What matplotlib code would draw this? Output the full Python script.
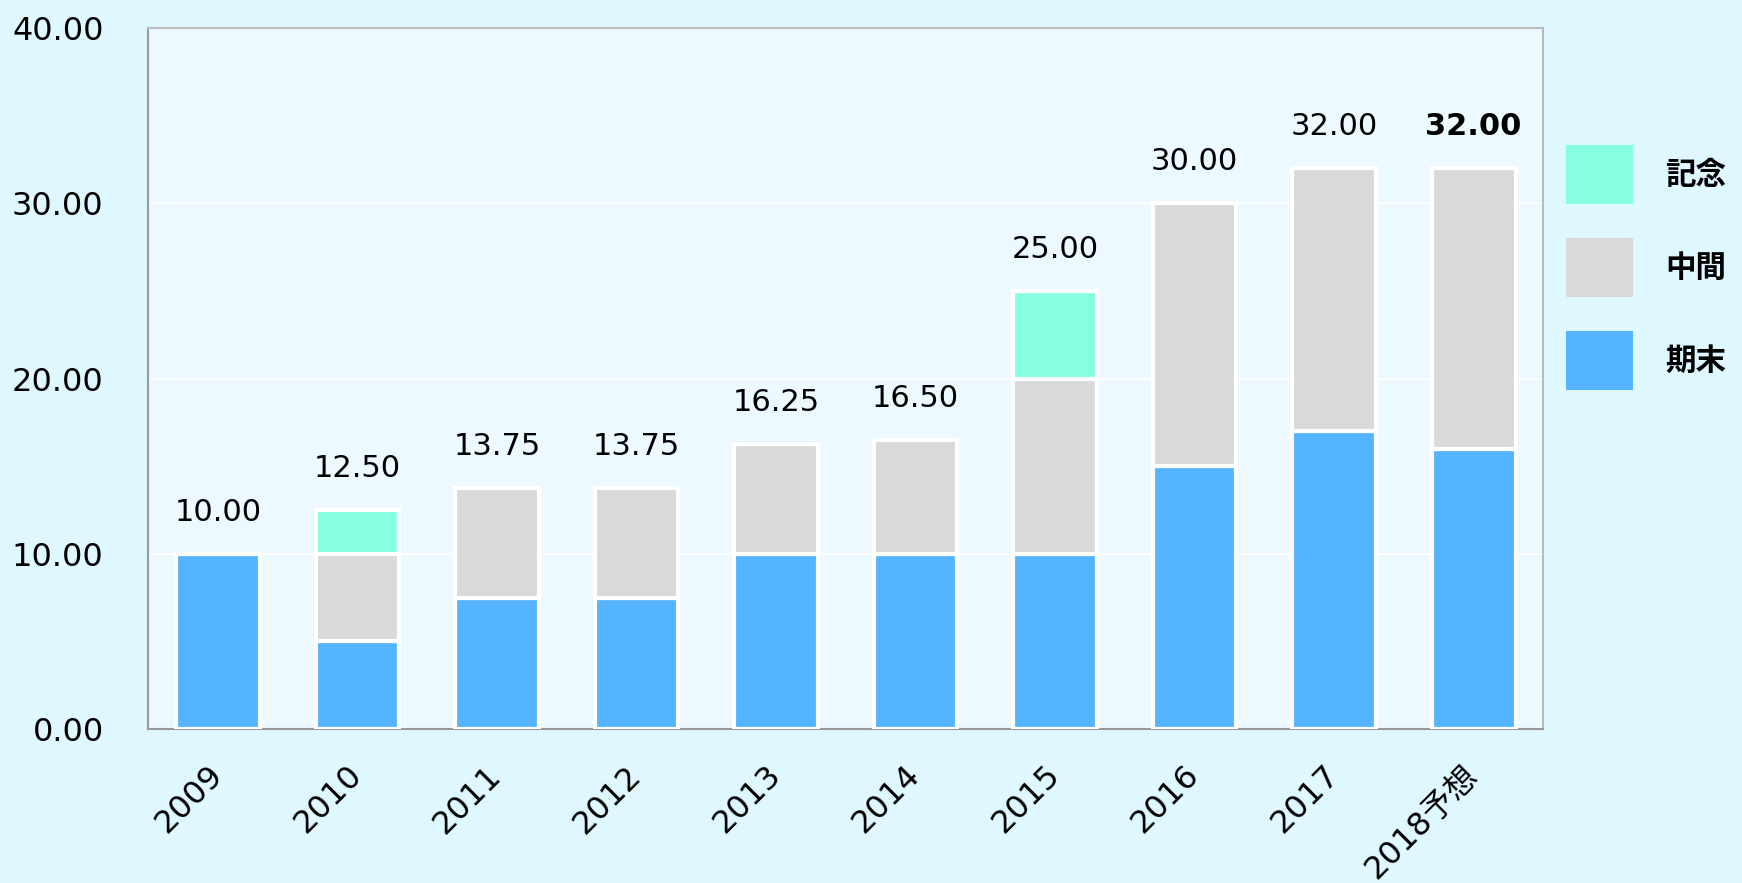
import numpy as np
import matplotlib.pyplot as plt

plt.rcParams['font.family'] = ['DejaVu Sans', 'Noto Sans CJK JP']

# -----------------------------
# data
# -----------------------------
years = ["2009", "2010", "2011", "2012", "2013", "2014", "2015", "2016", "2017", "2018予想"]
kimatsu = [10.0, 5.0, 7.5, 7.5, 10.0, 10.0, 10.0, 15.0, 17.0, 16.0]   # 期末
chukan = [0.0, 5.0, 6.25, 6.25, 6.25, 6.5, 10.0, 15.0, 15.0, 16.0]    # 中間
kinen = [0.0, 2.5, 0.0, 0.0, 0.0, 0.0, 5.0, 0.0, 0.0, 0.0]            # 記念
totals = [10.00, 12.50, 13.75, 13.75, 16.25, 16.50, 25.00, 30.00, 32.00, 32.00]

# -----------------------------
# plot
# -----------------------------
fig = plt.figure(figsize=(17.42, 8.83), dpi=100, facecolor="#dff7ff")
ax = fig.add_axes([0.085, 0.1744, 0.801, 0.7936])
ax.set_facecolor("#ecf9fe")

x = np.arange(len(years))
w = 0.6
k1 = np.array(kimatsu)
k2 = np.array(chukan)
k3 = np.array(kinen)

ax.bar(x, k1, w, color="#55b4ff", edgecolor="white", linewidth=3, label="期末", zorder=3)
ax.bar(x, k2, w, bottom=k1, color="#d9d9d9", edgecolor="white", linewidth=3, label="中間", zorder=3)
ax.bar(x[k3 > 0], k3[k3 > 0], w, bottom=(k1 + k2)[k3 > 0], color="#85ffdf",
       edgecolor="white", linewidth=3, label="記念", zorder=3)

for i, t in enumerate(totals):
    ax.annotate(f"{t:.2f}", (x[i], t), xytext=(0, 30), textcoords="offset points",
                ha="center", va="center", fontsize=22,
                fontweight="bold" if i == len(totals) - 1 else "normal")

ax.set_xlim(-0.5, len(years) - 0.5)
ax.set_ylim(0, 40)
ax.set_yticks([0, 10, 20, 30, 40])
ax.set_yticklabels([f"{v:.2f}" for v in [0, 10, 20, 30, 40]], fontsize=23)
ax.set_xticks(x)
ax.set_xticklabels(years, fontsize=23, rotation=45, ha="right", va="center",
                   rotation_mode="anchor")
ax.tick_params(axis="x", length=0, pad=30)
ax.tick_params(axis="y", length=0, pad=32)

ax.grid(axis="y", color="white", linewidth=1.2, zorder=1)
ax.set_axisbelow(True)
for s in ["left", "bottom"]:
    ax.spines[s].set_color("#999999")
    ax.spines[s].set_linewidth(1.5)
for s in ["top", "right"]:
    ax.spines[s].set_color("#bbbbbb")
    ax.spines[s].set_linewidth(1.5)

handles, labels = ax.get_legend_handles_labels()
leg = ax.legend(handles[::-1], labels[::-1], loc="upper left", bbox_to_anchor=(1.005, 0.855),
                frameon=False, prop={"size": 22, "weight": "bold"}, borderpad=0,
                handlelength=2.2, handleheight=2.6, labelspacing=1.1, handletextpad=1.05)
for h in leg.legend_handles:
    h.set_edgecolor("none")

fig.savefig("out.png", dpi=100, facecolor=fig.get_facecolor())
